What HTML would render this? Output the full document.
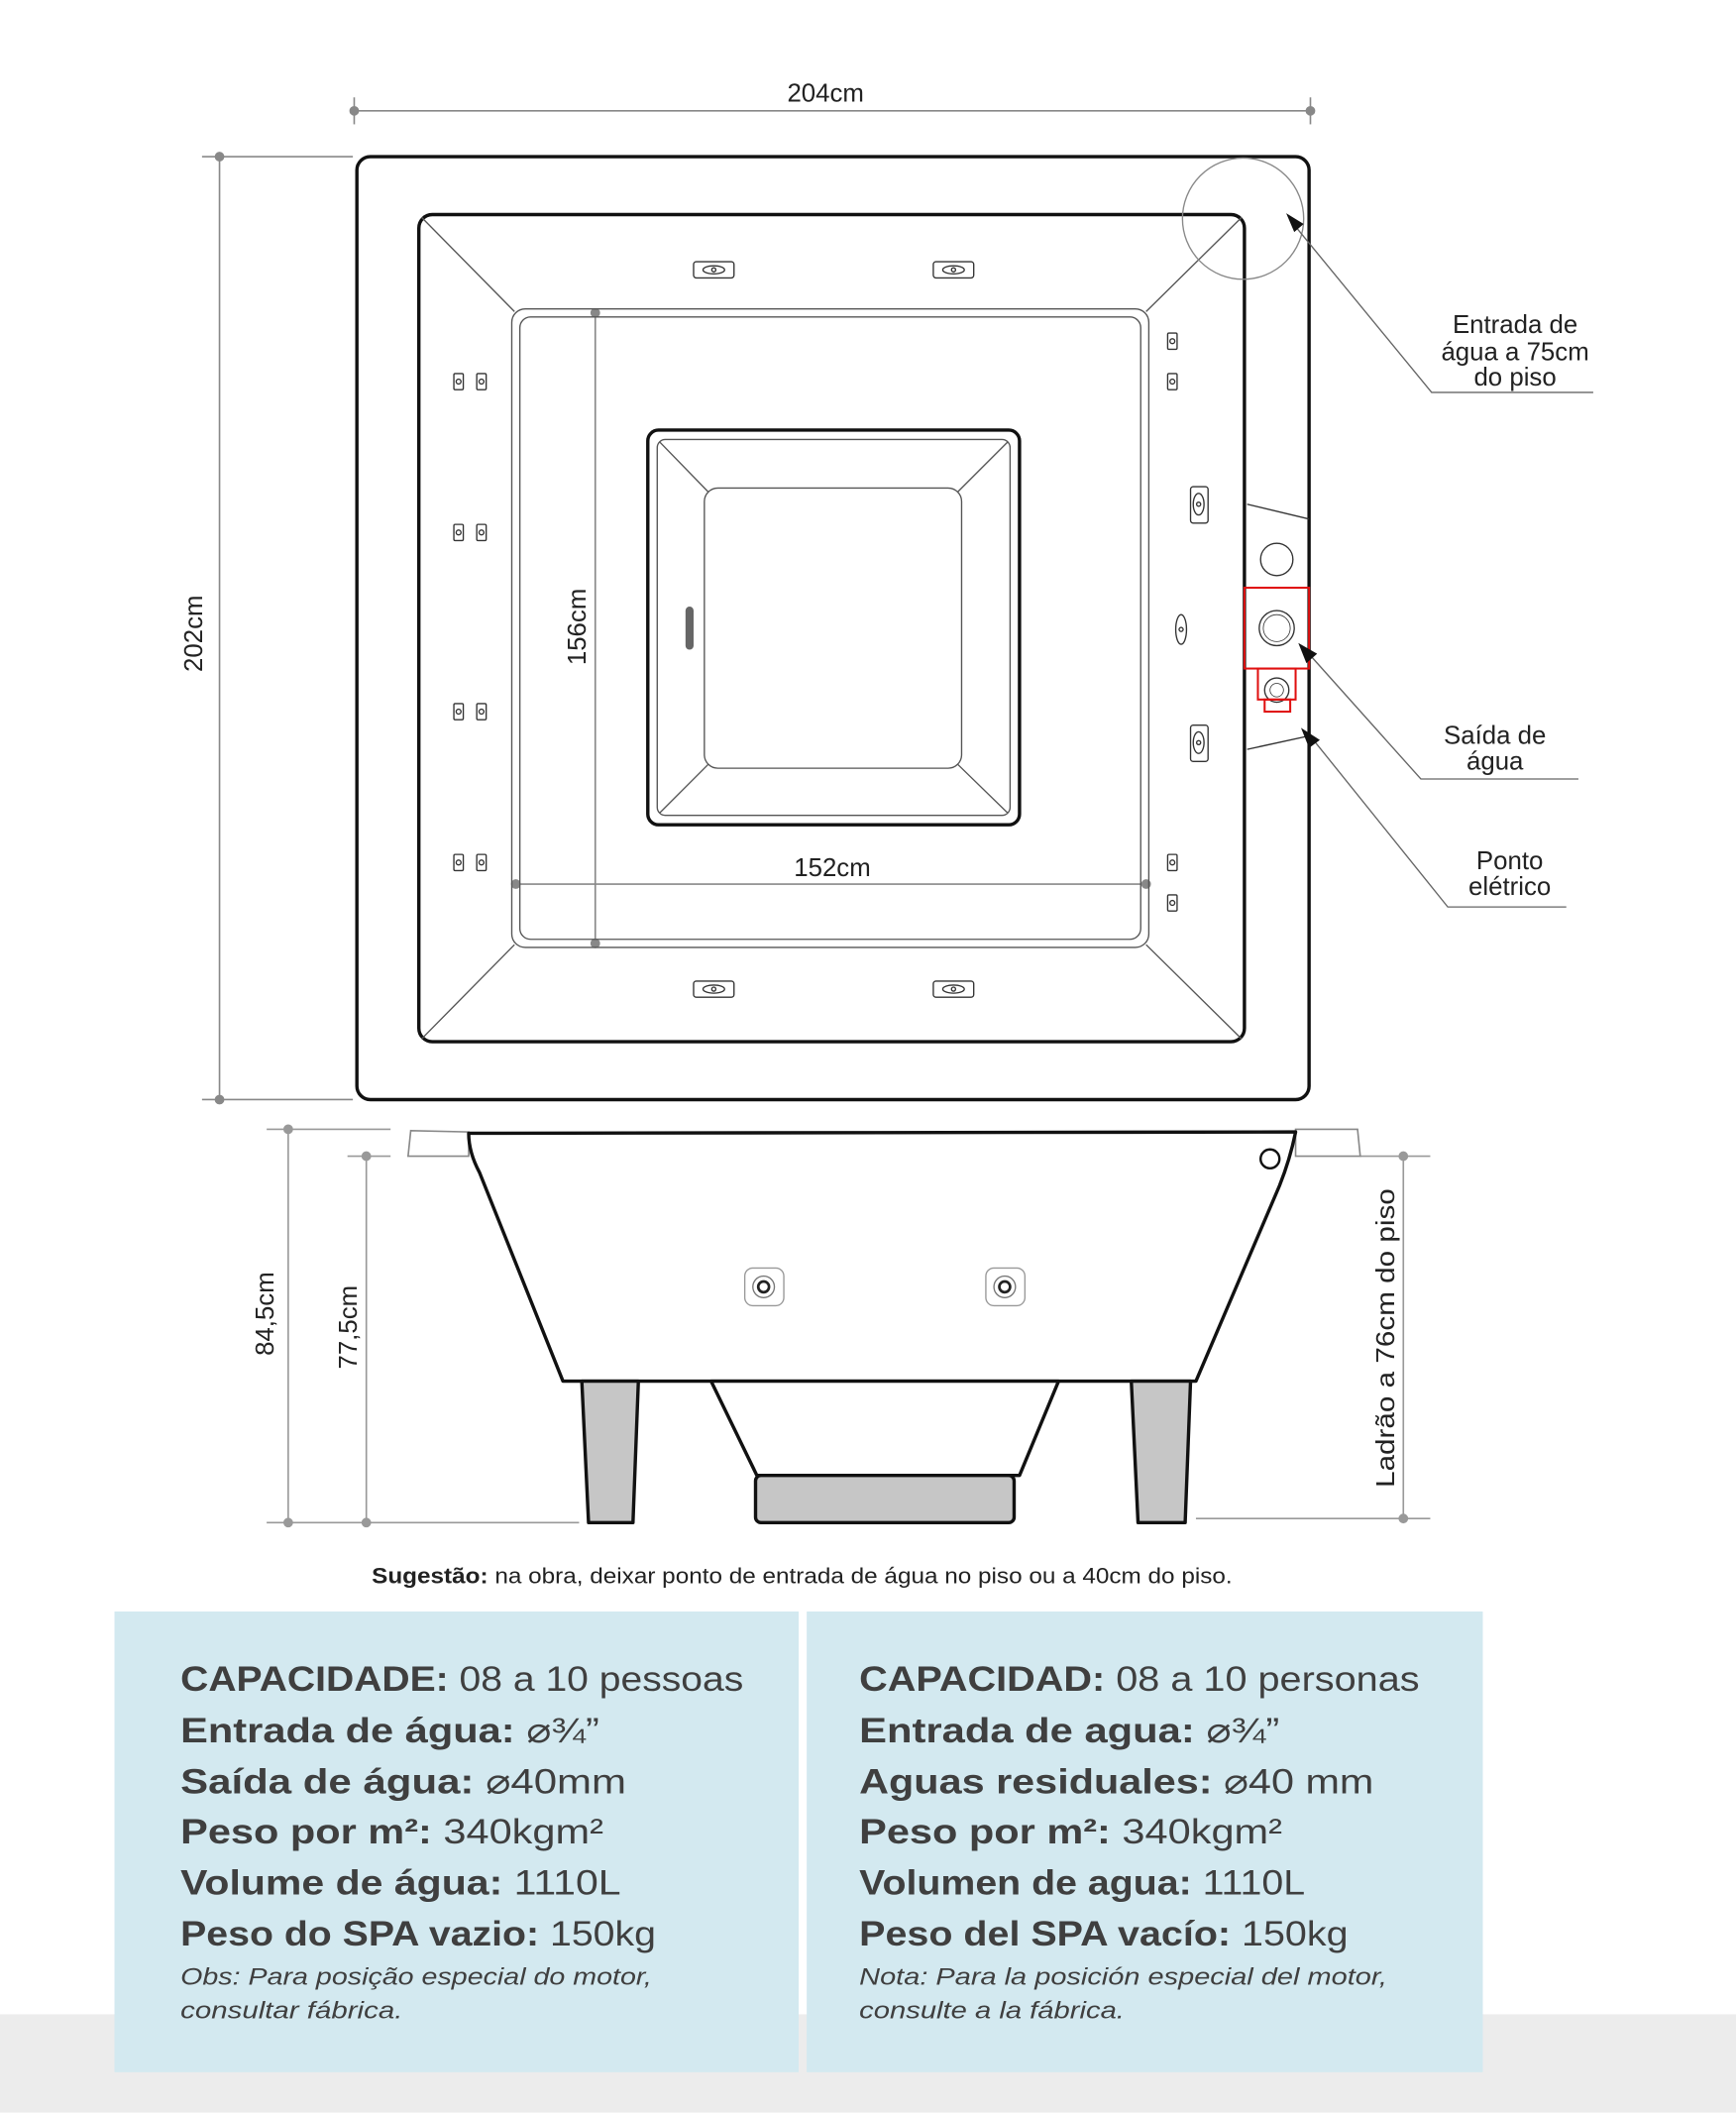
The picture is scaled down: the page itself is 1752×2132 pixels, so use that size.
<!DOCTYPE html>
<html><head><meta charset="utf-8"><style>
html,body{margin:0;padding:0;background:#fff;}
svg{display:block;}
text{font-family:"Liberation Sans",sans-serif;}
</style></head><body>
<svg width="1752" height="2132" viewBox="0 0 1289 1568" xmlns="http://www.w3.org/2000/svg">
<rect x="0" y="0" width="1289" height="1568" fill="#fff"/>
<rect x="0" y="1495" width="1289" height="73" fill="#ececec"/>

<g stroke="#888" stroke-width="1.2" fill="#888">
<line x1="263" y1="82" x2="973" y2="82"/>
<line x1="263" y1="72" x2="263" y2="92"/><line x1="973" y1="72" x2="973" y2="92"/>
<circle cx="263" cy="82" r="3"/><circle cx="973" cy="82" r="3"/>
<line x1="163" y1="116" x2="163" y2="816"/>
<line x1="150" y1="116" x2="262" y2="116"/><line x1="150" y1="816" x2="262" y2="816"/>
<circle cx="163" cy="116" r="3"/><circle cx="163" cy="816" r="3"/>
<line x1="442" y1="232" x2="442" y2="700"/>
<circle cx="442" cy="232" r="3"/><circle cx="442" cy="700" r="3"/>
<line x1="383" y1="656" x2="851" y2="656"/>
<circle cx="383" cy="656" r="3"/><circle cx="851" cy="656" r="3"/>
</g>
<g fill="#222" font-size="19">
<text x="613" y="75" text-anchor="middle">204cm</text>
<text transform="translate(150,470) rotate(-90)" text-anchor="middle">202cm</text>
<text transform="translate(435,465) rotate(-90)" text-anchor="middle">156cm</text>
<text x="618" y="650" text-anchor="middle">152cm</text>
</g>

<g fill="none" stroke="#111">
<rect x="265" y="116" width="707" height="700" rx="10" stroke-width="2.5"/>
<rect x="311" y="159" width="613" height="614" rx="10" stroke-width="2.5"/>
<g stroke-width="1" stroke="#555">
<rect x="380" y="229" width="473" height="474" rx="10"/>
<rect x="386" y="235" width="461" height="462" rx="8"/>
<line x1="313" y1="161" x2="382" y2="231"/><line x1="922" y1="161" x2="851" y2="231"/>
<line x1="313" y1="771" x2="382" y2="701"/><line x1="922" y1="771" x2="851" y2="701"/>
</g>
<rect x="481" y="319" width="276" height="293" rx="8" stroke-width="2.5"/>
<g stroke-width="1" stroke="#555">
<rect x="488" y="326" width="262" height="279" rx="6"/>
<rect x="523" y="362" width="191" height="208" rx="10"/>
<line x1="490" y1="328" x2="526" y2="365"/><line x1="748" y1="328" x2="711" y2="365"/>
<line x1="490" y1="603" x2="526" y2="567"/><line x1="748" y1="603" x2="711" y2="567"/>
</g>
<rect x="509" y="450" width="6" height="32" rx="3" fill="#666" stroke="none"/>
</g>

<g fill="none" stroke="#333" stroke-width="1">
<rect x="515" y="194" width="30" height="12" rx="2"/><ellipse cx="530" cy="200" rx="8" ry="3"/><circle cx="530" cy="200" r="1.5"/>
<rect x="693" y="194" width="30" height="12" rx="2"/><ellipse cx="708" cy="200" rx="8" ry="3"/><circle cx="708" cy="200" r="1.5"/>
<rect x="515" y="728" width="30" height="12" rx="2"/><ellipse cx="530" cy="734" rx="8" ry="3"/><circle cx="530" cy="734" r="1.5"/>
<rect x="693" y="728" width="30" height="12" rx="2"/><ellipse cx="708" cy="734" rx="8" ry="3"/><circle cx="708" cy="734" r="1.5"/>
<g id="lp">
<rect x="337" y="277" width="7" height="12" rx="1"/><circle cx="340.5" cy="283" r="1.8"/>
<rect x="354" y="277" width="7" height="12" rx="1"/><circle cx="357.5" cy="283" r="1.8"/>
</g>
<use href="#lp" y="112"/><use href="#lp" y="245"/><use href="#lp" y="357"/>
<rect x="867" y="247" width="7" height="12" rx="1"/><circle cx="870.5" cy="253" r="1.8"/>
<rect x="867" y="277" width="7" height="12" rx="1"/><circle cx="870.5" cy="283" r="1.8"/>
<rect x="867" y="634" width="7" height="12" rx="1"/><circle cx="870.5" cy="640" r="1.8"/>
<rect x="867" y="664" width="7" height="12" rx="1"/><circle cx="870.5" cy="670" r="1.8"/>
<rect x="884" y="361" width="13" height="27" rx="2"/><ellipse cx="890" cy="374" rx="4" ry="8"/><circle cx="890" cy="374" r="1.5"/>
<rect x="884" y="538" width="13" height="27" rx="2"/><ellipse cx="890" cy="551" rx="4" ry="8"/><circle cx="890" cy="551" r="1.5"/>
<ellipse cx="877" cy="467" rx="4" ry="11"/><circle cx="877" cy="467" r="1.5"/>
</g>

<g fill="none" stroke="#333" stroke-width="1">
<line x1="926" y1="374" x2="972" y2="385"/>
<line x1="926" y1="556" x2="972" y2="546"/>
<circle cx="948" cy="415" r="12"/>
<circle cx="948" cy="466" r="13"/><circle cx="948" cy="466" r="10" stroke-width="0.6"/>
<circle cx="948" cy="512" r="9"/><circle cx="948" cy="512" r="5" stroke-width="0.6"/>
</g>
<g fill="none" stroke="#e01010" stroke-width="1.5">
<rect x="924" y="436" width="48" height="60"/>
<rect x="934" y="496" width="28" height="23"/>
<rect x="939" y="519" width="19" height="9"/>
</g>
<circle cx="923" cy="162" r="45" fill="none" stroke="#888" stroke-width="1"/>

<g stroke="#666" stroke-width="1" fill="none">
<polyline points="962,168 1063,291 1183,291"/>
<polyline points="970,483 1055,578 1172,578"/>
<polyline points="972,545 1075,673 1163,673"/>
</g>
<g fill="#111">
<polygon points="955,158 968,166 961,172"/>
<polygon points="964,477 978,485 970,492"/>
<polygon points="966,540 980,549 972,555"/>
</g>
<g fill="#222" font-size="19" text-anchor="middle">
<text x="1125" y="247">Entrada de</text><text x="1125" y="267">água a 75cm</text><text x="1125" y="286">do piso</text>
<text x="1110" y="552">Saída de</text><text x="1110" y="571">água</text>
<text x="1121" y="645">Ponto</text><text x="1121" y="664">elétrico</text>
</g>

<g stroke="#999" stroke-width="1.2" fill="#999">
<line x1="198" y1="838" x2="290" y2="838"/>
<line x1="258" y1="858" x2="290" y2="858"/>
<line x1="198" y1="1130" x2="430" y2="1130"/>
<line x1="214" y1="838" x2="214" y2="1130"/>
<line x1="272" y1="858" x2="272" y2="1130"/>
<circle cx="214" cy="838" r="3"/><circle cx="214" cy="1130" r="3"/>
<circle cx="272" cy="858" r="3"/><circle cx="272" cy="1130" r="3"/>
<line x1="1010" y1="858" x2="1062" y2="858"/>
<line x1="888" y1="1127" x2="1062" y2="1127"/>
<line x1="1042" y1="858" x2="1042" y2="1127"/>
<circle cx="1042" cy="858" r="3"/><circle cx="1042" cy="1127" r="3"/>
</g>
<g fill="#222" font-size="19" text-anchor="middle">
<text transform="translate(203,975) rotate(-90)">84,5cm</text>
<text transform="translate(265,985) rotate(-90)">77,5cm</text>
<text transform="translate(1035,993) rotate(-90)" textLength="222" lengthAdjust="spacingAndGlyphs">Ladrão a 76cm do piso</text>
</g>
<g stroke="#888" stroke-width="1.2" fill="#fff">
<polygon points="305,839 348,840 348,858 303,858"/>
<polygon points="962,838 1008,838 1010,858 962,858"/>
</g>
<g stroke="#111" stroke-width="2.5" stroke-linejoin="round">
<path d="M348,841 L962,840 Q958,860 950,880 L888,1025 L418,1025 L356,870 Q348,855 348,841 Z" fill="#fff"/>
<polygon points="432,1025 474,1025 470,1130 437,1130" fill="#c6c6c6"/>
<polygon points="840,1025 884,1025 880,1130 845,1130" fill="#c6c6c6"/>
<polygon points="528,1025 786,1025 757,1095 562,1095" fill="#fff"/>
<rect x="561" y="1095" width="192" height="35" rx="4" fill="#c6c6c6"/>
</g>
<circle cx="943" cy="860" r="7" fill="none" stroke="#111" stroke-width="1.8"/>
<g fill="none">
<rect x="553" y="941" width="29" height="28" rx="6" stroke="#999" stroke-width="1"/>
<circle cx="567" cy="955" r="8" stroke="#777" stroke-width="1"/><circle cx="567" cy="955" r="4" stroke="#222" stroke-width="2"/>
<rect x="732" y="941" width="29" height="28" rx="6" stroke="#999" stroke-width="1"/>
<circle cx="746" cy="955" r="8" stroke="#777" stroke-width="1"/><circle cx="746" cy="955" r="4" stroke="#222" stroke-width="2"/>
</g>

<text x="276" y="1175" font-size="16" fill="#222" textLength="639" lengthAdjust="spacingAndGlyphs"><tspan font-weight="bold">Sugestão:</tspan> na obra, deixar ponto de entrada de água no piso ou a 40cm do piso.</text>

<rect x="85" y="1196" width="508" height="342" fill="#d3e9f0"/>
<rect x="599" y="1196" width="502" height="342" fill="#d3e9f0"/>
<g fill="#3f3f3f" font-size="26">
<text x="134" y="1255" textLength="418" lengthAdjust="spacingAndGlyphs"><tspan font-weight="bold">CAPACIDADE:</tspan> 08 a 10 pessoas</text>
<text x="134" y="1293" textLength="311" lengthAdjust="spacingAndGlyphs"><tspan font-weight="bold">Entrada de água:</tspan> ⌀¾”</text>
<text x="134" y="1331" textLength="331" lengthAdjust="spacingAndGlyphs"><tspan font-weight="bold">Saída de água:</tspan> ⌀40mm</text>
<text x="134" y="1368" textLength="314" lengthAdjust="spacingAndGlyphs"><tspan font-weight="bold">Peso por m²:</tspan> 340kgm²</text>
<text x="134" y="1406" textLength="327" lengthAdjust="spacingAndGlyphs"><tspan font-weight="bold">Volume de água:</tspan> 1110L</text>
<text x="134" y="1444" textLength="353" lengthAdjust="spacingAndGlyphs"><tspan font-weight="bold">Peso do SPA vazio:</tspan> 150kg</text>
<text x="134" y="1473" font-size="18" font-style="italic" textLength="350" lengthAdjust="spacingAndGlyphs">Obs: Para posição especial do motor,</text>
<text x="134" y="1498" font-size="18" font-style="italic" textLength="165" lengthAdjust="spacingAndGlyphs">consultar fábrica.</text>
<text x="638" y="1255" textLength="416" lengthAdjust="spacingAndGlyphs"><tspan font-weight="bold">CAPACIDAD:</tspan> 08 a 10 personas</text>
<text x="638" y="1293" textLength="312" lengthAdjust="spacingAndGlyphs"><tspan font-weight="bold">Entrada de agua:</tspan> ⌀¾”</text>
<text x="638" y="1331" textLength="382" lengthAdjust="spacingAndGlyphs"><tspan font-weight="bold">Aguas residuales:</tspan> ⌀40 mm</text>
<text x="638" y="1368" textLength="314" lengthAdjust="spacingAndGlyphs"><tspan font-weight="bold">Peso por m²:</tspan> 340kgm²</text>
<text x="638" y="1406" textLength="331" lengthAdjust="spacingAndGlyphs"><tspan font-weight="bold">Volumen de agua:</tspan> 1110L</text>
<text x="638" y="1444" textLength="363" lengthAdjust="spacingAndGlyphs"><tspan font-weight="bold">Peso del SPA vacío:</tspan> 150kg</text>
<text x="638" y="1473" font-size="18" font-style="italic" textLength="392" lengthAdjust="spacingAndGlyphs">Nota: Para la posición especial del motor,</text>
<text x="638" y="1498" font-size="18" font-style="italic" textLength="197" lengthAdjust="spacingAndGlyphs">consulte a la fábrica.</text>
</g>
</svg>
</body></html>
